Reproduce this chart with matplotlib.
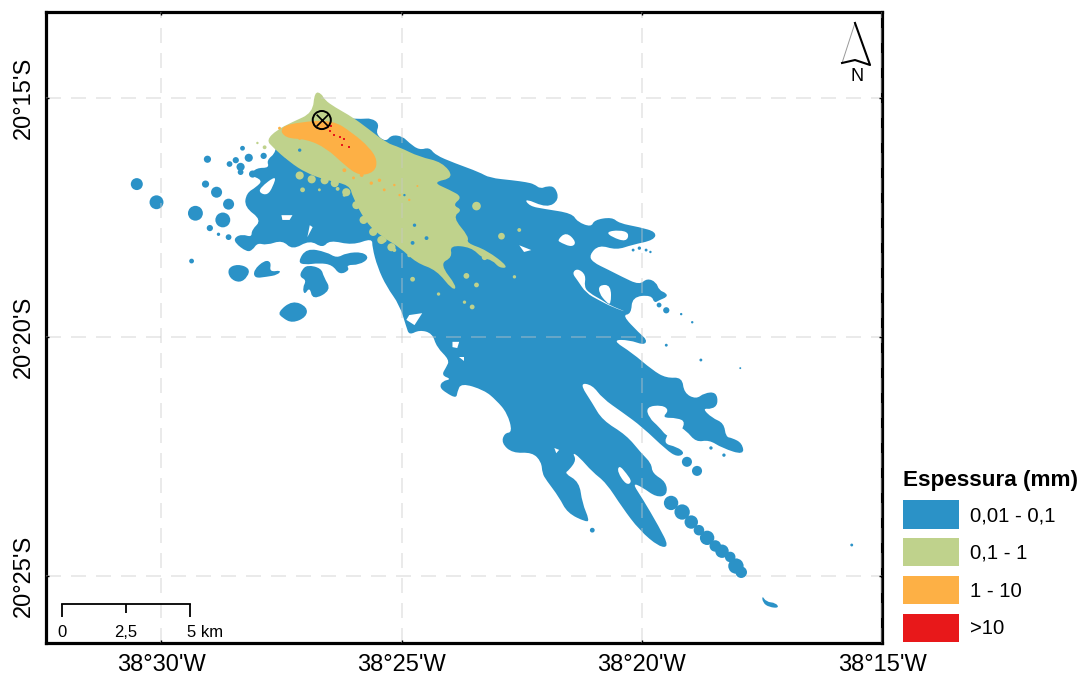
import matplotlib
matplotlib.use("Agg")
import matplotlib.pyplot as plt
from matplotlib.patches import Ellipse, Patch, PathPatch
from matplotlib.path import Path

plt.rcParams['font.family'] = ['Liberation Sans', 'DejaVu Sans']

# all map data in arc-minutes: lon = 38 deg X' W, lat = 20 deg Y' S
blue_main = [(27.60,15.67),(27.12,15.50),(26.79,15.29),(26.19,15.42),(25.83,15.44),(25.63,15.42),(25.46,15.54),(25.54,15.75),(25.33,15.92),(25.21,15.77),
(24.98,15.80),(24.84,15.94),(24.63,16.09),(24.42,16.03),(24.30,16.19),(23.90,16.36),(23.38,16.55),(23.17,16.67),(22.69,16.72),(22.40,16.76),
(22.24,16.80),(22.11,16.90),(21.97,16.84),(21.80,16.86),(21.72,17.13),(21.97,17.30),(22.45,17.09),(22.34,17.26),(22.03,17.32),(21.45,17.41),
(21.34,17.59),(21.05,17.70),(20.99,17.55),(20.62,17.49),(20.47,17.62),(20.05,17.70),(19.70,17.80),(19.74,17.97),(20.20,18.07),(20.53,18.18),
(20.89,18.07),(21.09,18.28),(21.03,18.43),(20.68,18.60),(20.41,18.74),(20.05,18.91),(19.89,18.77),(19.70,18.85),(19.64,19.02),(19.49,19.08),
(19.47,19.16),(19.64,19.23),(19.74,19.29),(19.80,19.12),(20.20,19.16),(20.22,19.52),(20.41,19.54),(20.05,19.92),(19.89,20.06),(19.95,20.17),
(20.26,20.06),(20.62,20.06),(20.20,20.33),(19.78,20.69),(19.49,20.86),(19.16,20.84),(19.12,21.17),(18.87,21.30),(18.70,21.17),(18.45,21.15),
(18.41,21.40),(18.54,21.51),(18.74,21.49),(18.54,21.69),(18.29,21.80),(18.25,22.09),(18.12,22.11),(17.91,22.22),(17.87,22.47),(18.33,22.32),
(18.60,22.15),(18.87,22.20),(19.08,21.95),(19.31,21.82),(19.58,22.22),(19.26,22.30),(19.10,22.43),(19.26,22.51),(19.49,22.36),(19.99,21.88),
(20.41,21.57),(20.82,21.28),(21.03,21.00),(21.30,20.96),(21.03,21.38),(20.82,21.74),(20.32,22.05),(20.01,22.43),(19.80,22.64),(19.78,22.85),
(19.49,23.03),(19.47,23.31),(19.70,23.35),(19.99,23.14),(20.20,23.05),(19.99,23.37),(19.64,23.97),(19.43,24.39),(19.64,24.39),(20.05,24.04),
(20.41,23.56),(20.74,23.05),(21.03,22.82),(21.30,22.51),(21.45,22.41),(21.36,22.57),(21.51,22.78),(21.61,22.85),(21.30,23.03),(21.24,23.47),
(21.09,23.83),(21.16,23.87),(21.55,23.68),(21.72,23.35),(21.99,22.99),(22.07,22.85),(22.09,22.61),(22.28,22.41),(22.69,22.43),(22.92,22.22),
(22.86,22.01),(22.69,21.99),(22.80,21.59),(23.03,21.32),(23.28,21.11),(23.76,20.96),(23.84,21.15),(23.86,21.28),(24.07,21.17),(24.21,21.05),
(24.15,20.92),(23.96,20.88),(24.17,20.80),(24.07,20.63),(24.00,20.48),(24.27,20.21),(24.36,19.92),(24.63,19.85),(24.84,19.96),(24.90,19.79),
(25.04,19.33),(25.31,18.95),(25.50,18.54),(25.61,18.12),(25.61,17.93),(26.02,18.08),(26.50,17.97),(26.64,18.14),(26.91,17.97),(27.27,18.18),
(27.48,17.97),(27.81,18.08),(28.00,18.03),(28.10,18.18),(28.22,18.22),(28.47,18.03),(28.47,17.91),(28.31,17.85),(28.12,17.91),(28.12,17.76),
(27.91,17.55),(28.27,17.28),(28.23,16.99),(28.02,16.86),(27.89,16.72),(28.16,16.61),(28.02,16.46),(27.75,16.46),(27.81,16.30),(27.60,16.13)]

blue_lobes = [
 [(27.16,18.43),(26.98,18.14),(26.56,18.22),(26.35,18.35),(26.15,18.24),(25.81,18.22),(25.67,18.35),(25.88,18.49),(26.15,18.49),(26.08,18.60),(26.29,18.70),(26.44,18.49),(26.71,18.45),(27.02,18.49)],
 [(27.08,18.60),(26.96,18.49),(26.67,18.56),(26.62,18.74),(26.46,19.02),(26.85,19.23),(26.91,18.95),(27.02,19.12),(27.06,18.97),(26.98,18.81),(27.12,18.74)],
 [(28.62,18.56),(28.41,18.47),(28.16,18.56),(28.20,18.74),(28.37,18.87),(28.58,18.77)],
 [(28.08,18.60),(27.85,18.39),(27.71,18.43),(27.75,18.64),(27.50,18.60),(27.58,18.70),(27.81,18.74),(28.06,18.77)],
 [(27.58,19.48),(27.27,19.23),(26.96,19.37),(26.98,19.58),(27.27,19.71),(27.48,19.60)],
 [(17.50,25.40),(17.41,25.54),(17.21,25.56),(17.14,25.67),(17.35,25.65),(17.48,25.56)],
]

# small round patches: lon, lat, diameter (arc-minutes)
blue_blobs = [(30.51,16.80,.25),(30.10,17.18,.29),(29.29,17.41,.31),(28.72,17.55,.31),(28.60,17.22,.23),(28.85,16.97,.23),(29.08,16.80,.15),
(29.04,16.28,.15),(28.58,16.38,.12),(28.45,16.30,.13),(28.18,16.25,.17),(27.87,16.21,.13),(28.35,16.44,.17),(28.35,16.55,.12),(28.10,16.59,.15),
(28.31,16.05,.10),(28.99,17.72,.13),(28.60,17.91,.12),(28.81,17.85,.07),(29.37,18.41,.10),(19.06,22.61,.21),(18.85,22.80,.21),(21.03,24.04,.10),
(19.39,23.47,.30),(19.16,23.66,.32),(18.97,23.87,.28),(18.81,24.04,.22),(18.64,24.20,.30),(18.47,24.37,.24),(18.33,24.48,.28),(18.16,24.60,.22),
(18.04,24.79,.32),(17.93,24.92,.24),(18.56,22.32,.07),(18.29,22.47,.07),(19.49,20.17,.06),(18.77,20.48,.06),(19.18,19.52,.05),(18.95,19.69,.05),
(19.49,19.44,.13),(19.64,19.33,.10),(17.95,20.65,.04),(15.63,24.35,.06),(20.05,18.14,.07),(19.91,18.18,.06),(19.82,18.22,.05),(20.18,18.18,.06)]

white_gaps = [
 [(27.95,16.88),(27.60,16.61),(27.68,16.86),(27.79,17.03),(27.95,16.99)],
 [(21.76,17.97),(21.57,17.80),(21.36,18.01),(21.45,18.12),(21.68,18.03)],
 [(21.45,18.66),(21.34,18.56),(21.16,18.70),(21.20,18.95),(21.09,19.08),(20.82,19.23),(20.68,19.33),(20.26,19.50),(20.62,19.37),(20.89,19.23),(21.16,19.08),(21.34,18.81)],
 [(20.89,18.91),(20.64,18.91),(20.64,19.33),(20.74,19.27),(20.89,19.08)],
 [(20.74,17.80),(20.47,17.76),(20.26,17.82),(20.32,18.01),(20.62,17.91)],
 [(19.91,21.46),(19.58,21.42),(19.43,21.53),(19.58,21.69),(19.26,21.69),(19.08,21.78),(19.26,22.09),(19.47,22.09),(19.64,21.88),(19.85,21.69)],
 [(20.47,22.68),(20.32,22.85),(20.20,23.03),(20.32,23.10),(20.51,22.82)],
 [(22.55,18.08),(22.30,18.18),(22.45,18.22)],
 [(24.84,19.54),(24.57,19.50),(24.73,19.75),(24.90,19.64)],
 [(23.94,20.10),(23.80,20.10),(23.84,20.23),(23.94,20.21)],
 [(23.80,20.42),(23.69,20.42),(23.69,20.50)],
 [(26.91,17.66),(26.85,17.70),(26.96,17.91)],
 [(27.50,17.45),(27.27,17.45),(27.33,17.55),(27.48,17.55)],
 [(21.82,22.32),(21.72,22.36),(21.78,22.43)],
]

green_main = [(26.81,14.87),(26.67,14.90),(26.60,15.04),(26.39,15.19),(26.02,15.40),(25.71,15.63),(25.31,15.94),(25.04,16.03),(24.63,16.23),(24.15,16.34),
(23.90,16.67),(24.36,16.76),(24.00,16.92),(23.73,17.07),(23.94,17.24),(23.73,17.34),(23.94,17.49),(23.59,17.91),(23.65,18.03),(23.23,18.18),
(22.76,18.54),(22.96,18.56),(23.11,18.39),(23.32,18.35),(23.55,18.12),(24.00,18.08),(23.94,18.33),(24.21,18.47),(23.84,18.95),(23.94,19.02),
(24.27,18.60),(24.69,18.45),(25.04,18.12),(25.40,17.91),(25.73,17.62),(26.02,17.07),(26.08,16.82),(26.56,16.72),(26.98,16.57),(27.33,16.34),
(27.68,16.03),(27.81,15.88),(27.60,15.67),(27.27,15.50),(26.85,15.31)]

green_blobs = [(23.44,17.26,.18),(22.92,17.89,.14),(22.55,17.76,.08),(23.44,18.91,.10),(23.53,19.37,.10),(23.69,19.27,.07),(24.23,19.10,.07),(24.77,18.79,.10),
(23.65,18.72,.12),(23.27,18.33,.12),(22.65,18.74,.07),(27.06,16.92,.10),(26.33,16.90,.08),(25.83,17.30,.10),(26.19,17.03,.07),(26.71,16.92,.06),
(25.61,17.45,.08),(25.36,17.97,.10),(25.15,18.18,.08),(24.84,18.29,.08),(27.85,16.03,.08),(28.00,15.94,.05),
(27.12,16.62,.17),(26.87,16.70,.17),(26.60,16.72,.17),(26.39,16.78,.17),(26.15,16.97,.17),(25.94,17.24,.17),(25.79,17.55,.17),(25.59,17.80,.17),(25.42,17.97,.17),(25.21,18.12,.17)]

blue_spots = [(24.77,18.03,.08),(24.73,17.66,.07),(24.48,17.93,.08),(24.94,17.03,.05),(27.12,16.09,.07),(27.43,16.30,.07)]

orange_main = [(27.54,15.61),(27.12,15.50),(26.43,15.46),(26.02,15.73),(25.67,16.03),(25.50,16.30),(25.56,16.55),(25.88,16.63),(26.19,16.40),(26.56,16.05),(26.98,15.86),(27.43,15.84)]
orange_specks = [(25.63,16.78,.07),(25.46,16.72,.07),(25.36,16.92,.06),(25.15,16.82,.05),(25.04,17.03,.05),(24.84,17.13,.05),(24.67,16.84,.04),(25.83,16.61,.08),(27.12,15.84,.07),(27.54,15.63,.06),(26.19,16.51,.08),(26.00,16.67,.06)]
red_lon = [26.54,26.48,26.40,26.29,26.23,26.10,26.20,26.46]
red_lat = [15.61,15.69,15.77,15.82,15.98,16.03,15.86,15.59]
vent_lon, vent_lat = 26.66, 15.46

lon_ticks = [30, 25, 20, 15]
lat_ticks = [15, 20, 25]
lon_limits = (32.40, 15.0)
lat_limits = (26.40, 13.20)
scale_km = [0, 2.5, 5]
scale_lon_start = 32.07
scale_min_per_km = 0.532
scale_lat = 25.59
class_labels = ['0,01 - 0,1', '0,1 - 1', '1 - 10', '>10']
BLUE, GREEN, ORANGE, RED = '#2B92C7', '#BFD28C', '#FDB045', '#E8181A'

def X(m):
    return -(38 + m / 60)
def Y(m):
    return -(20 + m / 60)

def shape(points, color, z):
    """Closed outline, rounded through the midpoints of the traced vertices."""
    p = [(X(a), Y(b)) for a, b in points]
    if len(p) < 5:
        verts = p + [p[0]]
        codes = [Path.MOVETO] + [Path.LINETO] * (len(p) - 1) + [Path.CLOSEPOLY]
    else:
        mid = lambda u, v: ((u[0] + v[0]) / 2, (u[1] + v[1]) / 2)
        verts = [mid(p[-1], p[0])]
        codes = [Path.MOVETO]
        for i in range(len(p)):
            verts += [p[i], mid(p[i], p[(i + 1) % len(p)])]
            codes += [Path.CURVE3, Path.CURVE3]
        verts.append(verts[0])
        codes.append(Path.CLOSEPOLY)
    ax.add_patch(PathPatch(Path(verts, codes), fc=color, ec='none', zorder=z))

fig = plt.figure(figsize=(10.8, 6.75), dpi=100)
ax = fig.add_axes([46/1080, 1-643/675, (882-46)/1080, (643-12)/675])
ax.set_xlim(X(lon_limits[0]), X(lon_limits[1]))
ax.set_ylim(Y(lat_limits[0]), Y(lat_limits[1]))

def blobs(items, color, z):
    for a, b, d in items:
        ax.add_patch(Ellipse((X(a), Y(b)), d/60, d/60, fc=color, ec='none', zorder=z))

shape(blue_main, BLUE, 1)
for p in blue_lobes:
    shape(p, BLUE, 1)
blobs(blue_blobs, BLUE, 1)
for p in white_gaps:
    shape(p, 'white', 1.5)
shape(green_main, GREEN, 2)
blobs(green_blobs, GREEN, 2)
blobs(blue_spots, BLUE, 2.2)
shape(orange_main, ORANGE, 3)
blobs(orange_specks, ORANGE, 3)
ax.scatter([X(v) for v in red_lon], [Y(v) for v in red_lat], s=4, marker='s', color=RED, linewidths=0, zorder=4)

ax.set_xticks([X(v) for v in lon_ticks])
ax.set_yticks([Y(v) for v in lat_ticks])
ax.set_xticklabels([f"38°{v}'W" for v in lon_ticks], fontsize=17)
ax.set_yticklabels([f"20°{v}'S" for v in lat_ticks], fontsize=17, rotation=90, va='center')
ax.tick_params(direction='in', length=2.5, width=1, pad=8, top=True, right=True)
ax.grid(True, color='#c8c8c8', alpha=0.45, lw=1.2, dashes=(9, 6), zorder=5)
ax.set_axisbelow(False)
for s in ax.spines.values():
    s.set_linewidth(2.3)

# vent
ax.scatter([X(vent_lon)], [Y(vent_lat)], s=170, facecolor='none', edgecolor='black', linewidths=1.4, zorder=6)
ax.scatter([X(vent_lon)], [Y(vent_lat)], s=70, marker='x', color='black', linewidths=1.2, zorder=6)

# scale bar
sx = [X(scale_lon_start - k * scale_min_per_km) for k in scale_km]
ax.plot(sx, [Y(scale_lat)]*3, color='black', lw=1.3, zorder=6)
for k, x in zip(scale_km, sx):
    ax.plot([x, x], [Y(scale_lat), Y(scale_lat + (0.18 if k == 2.5 else 0.26))], color='black', lw=1.3, zorder=6, solid_capstyle='butt')
scale_text = ['0', '2,5', '5 km']
for i, (t, x) in enumerate(zip(scale_text, sx)):
    ax.annotate(t, (x, Y(scale_lat + 0.58)), ha='left' if i == 2 else 'center', va='center', fontsize=12, zorder=6,
                xytext=(-2 if i == 2 else 0, 0), textcoords='offset points')

# north arrow (axes fractions)
na = [(0.9677, 0.9826), (0.9522, 0.9192), (0.9677, 0.9239), (0.9857, 0.9160)]
ax.plot([na[0][0], na[1][0]], [na[0][1], na[1][1]], transform=ax.transAxes, color='#999999', lw=0.7, zorder=6)
ax.plot([na[0][0], na[3][0], na[2][0], na[1][0]], [na[0][1], na[3][1], na[2][1], na[1][1]], transform=ax.transAxes, color='black', lw=1.5, zorder=6)
ax.text(0.9696, 0.8970, 'N', transform=ax.transAxes, ha='center', va='center', fontsize=13, zorder=6)

# legend
handles = [Patch(fc=c, ec='none') for c in (BLUE, GREEN, ORANGE, RED)]
leg = fig.legend(handles, class_labels, loc='lower left', bbox_to_anchor=(903/1080, 1-642/675), bbox_transform=fig.transFigure,
                 borderaxespad=0, borderpad=0, frameon=False, fontsize=14.6, handlelength=2.76, handleheight=1.78,
                 labelspacing=0.46, handletextpad=0.52, title='Espessura (mm)', alignment='left',
                 title_fontproperties={'weight': 'bold', 'size': 16.2})
fig.savefig('out.png', dpi=100)
